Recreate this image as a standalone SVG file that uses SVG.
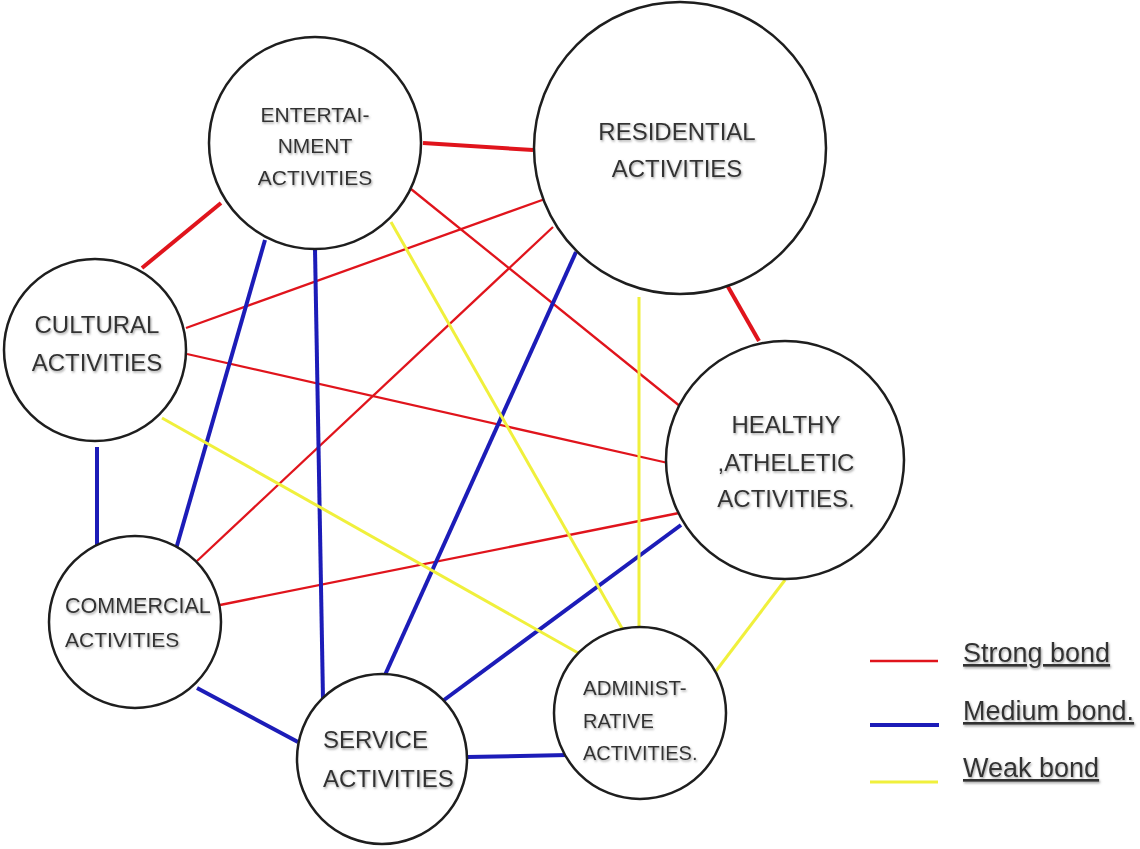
<svg xmlns="http://www.w3.org/2000/svg" width="1140" height="849" viewBox="0 0 1140 849">
<defs>
<style>
.node{fill:#fff;stroke:#1e1e1e;stroke-width:2.5}
.lbl{font-family:"Liberation Sans",Arial,sans-serif;fill:#333;filter:url(#sh)}
.m{text-anchor:middle}
.s{stroke:#e0141c;stroke-width:2.3;stroke-linecap:butt}
.st{stroke:#e0141c;stroke-width:4}
.b{stroke:#1c1cb8;stroke-width:4}
.y{stroke:#f0f03c;stroke-width:3}
.leg{font-family:"Liberation Sans",Arial,sans-serif;font-size:27px;fill:#333;text-decoration:underline;filter:url(#sh)}
</style>
<filter id="sh" x="-10%" y="-30%" width="130%" height="170%">
<feDropShadow dx="1" dy="1.5" stdDeviation="0.9" flood-color="#8a8a8a" flood-opacity="0.8"/>
</filter>
</defs>
<rect width="1140" height="849" fill="#fff"/>
<g id="connectors">
<line class="st" x1="423" y1="143" x2="533" y2="150"/>
<line class="st" x1="221" y1="203" x2="142" y2="268"/>
<line class="st" x1="727" y1="285" x2="759" y2="341"/>
<line class="s" x1="186" y1="328" x2="545" y2="199"/>
<line class="s" x1="187" y1="354" x2="668" y2="463"/>
<line class="s" x1="411" y1="189" x2="681" y2="407"/>
<line class="s" x1="197" y1="561" x2="553" y2="227"/>
<line class="s" x1="220" y1="605" x2="679" y2="513"/>
<line class="b" x1="265" y1="240" x2="176" y2="549"/>
<line class="b" x1="315" y1="249" x2="323" y2="699"/>
<line class="b" x1="97" y1="447" x2="97" y2="548"/>
<line class="b" x1="197" y1="688" x2="298" y2="742"/>
<line class="b" x1="576" y1="252" x2="385" y2="675"/>
<line class="b" x1="681" y1="525" x2="444" y2="700"/>
<line class="b" x1="467" y1="757" x2="568" y2="755"/>
<line class="y" x1="391" y1="222" x2="623" y2="630"/>
<line class="y" x1="639" y1="297" x2="639" y2="627"/>
<line class="y" x1="162" y1="418" x2="580" y2="654"/>
<line class="y" x1="785" y1="580" x2="716" y2="671"/>
</g>
<g id="node-entertainment">
<circle class="node" cx="315" cy="143" r="106"/>
<text class="lbl m" x="315" y="122" font-size="21">ENTERTAI-</text>
<text class="lbl m" x="315" y="153" font-size="21">NMENT</text>
<text class="lbl m" x="315" y="185" font-size="21">ACTIVITIES</text>
</g>
<g id="node-residential">
<circle class="node" cx="680" cy="148" r="146"/>
<text class="lbl m" x="677" y="140" font-size="24">RESIDENTIAL</text>
<text class="lbl m" x="677" y="177" font-size="24">ACTIVITIES</text>
</g>
<g id="node-cultural">
<circle class="node" cx="95" cy="350" r="91"/>
<text class="lbl m" x="97" y="333" font-size="24">CULTURAL</text>
<text class="lbl m" x="97" y="371" font-size="24">ACTIVITIES</text>
</g>
<g id="node-healthy">
<circle class="node" cx="785" cy="460" r="119"/>
<text class="lbl m" x="786" y="433" font-size="24">HEALTHY</text>
<text class="lbl m" x="786" y="471" font-size="24">,ATHELETIC</text>
<text class="lbl m" x="786" y="507" font-size="24">ACTIVITIES.</text>
</g>
<g id="node-commercial">
<circle class="node" cx="135" cy="622" r="86"/>
<text class="lbl" x="65" y="613" font-size="21.5">COMMERCIAL</text>
<text class="lbl" x="65" y="647" font-size="21">ACTIVITIES</text>
</g>
<g id="node-service">
<circle class="node" cx="382" cy="759" r="85"/>
<text class="lbl" x="323" y="748" font-size="24">SERVICE</text>
<text class="lbl" x="323" y="787" font-size="24">ACTIVITIES</text>
</g>
<g id="node-administrative">
<circle class="node" cx="640" cy="713" r="86"/>
<text class="lbl" x="583" y="695" font-size="20.5">ADMINIST-</text>
<text class="lbl" x="583" y="728" font-size="20">RATIVE</text>
<text class="lbl" x="583" y="760" font-size="20">ACTIVITIES.</text>
</g>
<g id="legend">
<line class="s" x1="870" y1="661" x2="938" y2="661" stroke-width="3"/>
<text class="leg" x="963" y="662">Strong bond</text>
<line class="b" x1="870" y1="725" x2="939" y2="725"/>
<text class="leg" x="963" y="720">Medium bond.</text>
<line class="y" x1="870" y1="782" x2="938" y2="782"/>
<text class="leg" x="963" y="777">Weak bond</text>
</g>
</svg>
